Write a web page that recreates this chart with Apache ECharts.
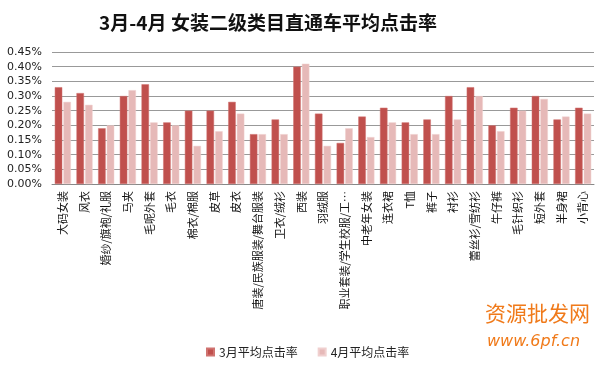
<!DOCTYPE html>
<html>
<head>
<meta charset="utf-8">
<script src="https://cdn.jsdelivr.net/npm/echarts@6/dist/echarts.min.js"></script>
<style>
html,body{margin:0;padding:0;background:#fff;}
#c{width:600px;height:368px;}
</style>
</head>
<body>
<div id="c"></div>
<script>
var categories = ['大码女装','风衣','婚纱/旗袍/礼服','马夹','毛呢外套','毛衣','棉衣/棉服','皮草','皮衣','唐装/民族服装/舞台服装','卫衣/绒衫','西装','羽绒服','职业套装/学生校服/工…','中老年女装','连衣裙','T恤','裤子','衬衫','蕾丝衫/雪纺衫','牛仔裤','毛针织衫','短外套','半身裙','小背心'];
var march = [0.33,0.31,0.19,0.30,0.34,0.21,0.25,0.25,0.28,0.17,0.22,0.40,0.24,0.14,0.23,0.26,0.21,0.22,0.30,0.33,0.20,0.26,0.30,0.22,0.26];
var april = [0.28,0.27,0.20,0.32,0.21,0.20,0.13,0.18,0.24,0.17,0.17,0.41,0.13,0.19,0.16,0.21,0.17,0.17,0.22,0.30,0.18,0.25,0.29,0.23,0.24];
var seriesNames = ['3月平均点击率','4月平均点击率'];
var titleText = '3月-4月 女装二级类目直通车平均点击率';

var font = '"Noto Sans CJK SC", "Liberation Sans", sans-serif';
var chart = echarts.init(document.getElementById('c'));
chart.setOption({
  animation: false,
  textStyle: {fontFamily: font},
  title: {
    text: titleText,
    left: 263, top: 8, textAlign: 'center',
    textStyle: {fontSize: 19, fontWeight: 'bold', color: '#111', fontFamily: font}
  },
  legend: {
    data: seriesNames,
    bottom: 5, left: 201,
    itemWidth: 7, itemHeight: 7, itemGap: 20,
    icon: 'rect',
    textStyle: {fontSize: 12, color: '#222', fontFamily: font}
  },
  grid: {left: 52, right: 6, top: 52, bottom: 184, containLabel: false},
  xAxis: {
    type: 'category',
    data: categories,
    axisLine: {lineStyle: {color: '#888', width: 1}},
    axisTick: {show: false},
    axisLabel: {rotate: 90, interval: 0, fontSize: 11, color: '#111', margin: 7, fontFamily: font}
  },
  yAxis: {
    type: 'value',
    min: 0, max: 0.45, interval: 0.05,
    axisLine: {show: false},
    axisTick: {show: false},
    splitLine: {lineStyle: {color: '#999', width: 1}},
    axisLabel: {
      fontSize: 11, color: '#222', margin: 10, fontFamily: '"DejaVu Sans", sans-serif',
      formatter: function (v) { return v.toFixed(2) + '%'; }
    }
  },
  series: [
    {name: seriesNames[0], type: 'bar', data: march, barWidth: 7.5, barGap: '15%', barCategoryGap: '26%',
     itemStyle: {color: '#C0504D', borderColor: '#D07370', borderWidth: 0.5}},
    {name: seriesNames[1], type: 'bar', data: april, barWidth: 7.5,
     itemStyle: {color: '#E6B9B8', borderColor: '#F0D0CF', borderWidth: 0.5}}
  ],
  graphic: [
    {type: 'text', left: 485, top: 303, style: {text: '资源批发网', fill: '#F07A1A', font: '21px "Noto Sans CJK SC"'}},
    {type: 'text', left: 487, top: 334, style: {text: 'www.6pf.cn', fill: '#F07A1A', font: 'italic 16px "DejaVu Sans"'}}
  ]
});
</script>
</body>
</html>
